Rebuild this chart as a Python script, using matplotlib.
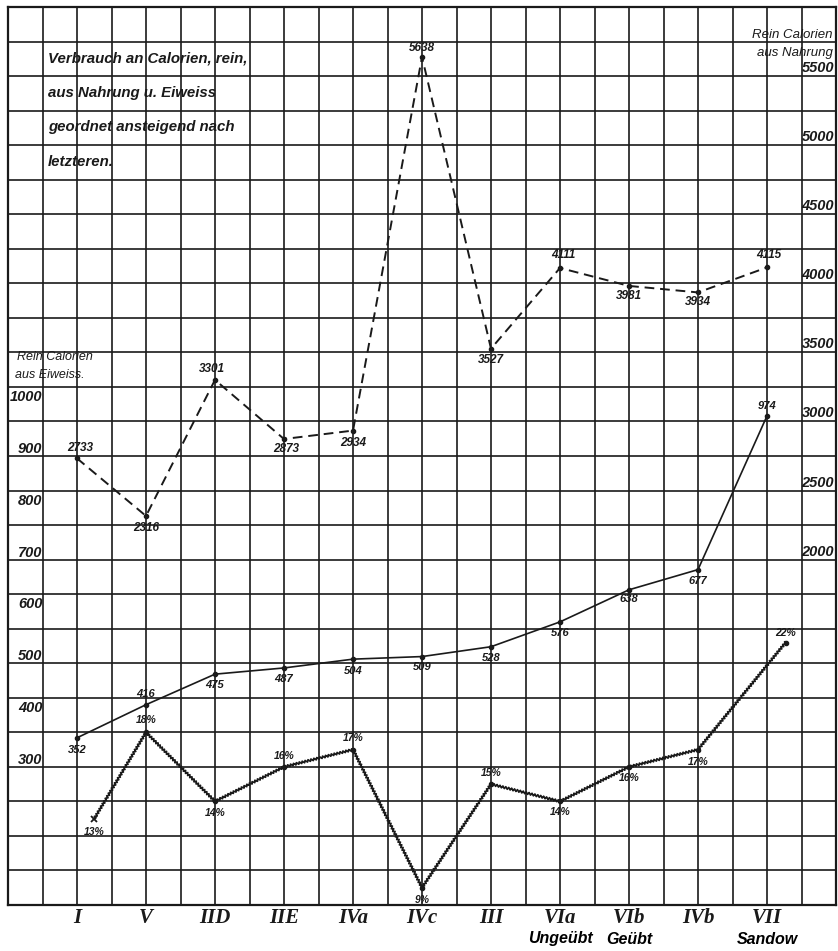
import numpy as np
import matplotlib
matplotlib.use('Agg')
from matplotlib import pyplot as plt

# groups, ordered by rising protein calories
groups = ['I', 'V', 'IID', 'IIE', 'IVa', 'IVc', 'III', 'VIa', 'VIb', 'IVb', 'VII']
nahrung = [2733, 2316, 3301, 2873, 2934, 5638, 3527, 4111, 3981, 3934, 4115]
eiweiss = [352, 416, 475, 487, 504, 509, 528, 576, 638, 677, 974]
pct_x = [0.25, 1, 2, 3, 4, 5, 6, 7, 8, 9, 10.27]
pct_vals = [13, 18, 14, 16, 17, 9, 15, 14, 16, 17, 23.2]
pct_labels = ['13%', '18%', '14%', '16%', '17%', '9%', '15%', '14%', '16%', '17%', '22%']

left_ticks = [300, 400, 500, 600, 700, 800, 900, 1000]
right_ticks = [2000, 2500, 3000, 3500, 4000, 4500, 5000, 5500]
sub_idx = [7, 8, 10]
sub_labels = ['Ungeübt', 'Geübt', 'Sandow']
title_lines = ['Verbrauch an Calorien, rein,', 'aus Nahrung u. Eiweiss',
               'geordnet ansteigend nach', 'letzteren.']

# label offsets in pixels (above > 0, below < 0)
nahrung_off = [(3, 10), (0, -12), (-3, 11), (2, -10), (0, -12), (0, 9),
               (0, -11), (3, 13), (0, -10), (0, -10), (2, 12)]
eiweiss_off = [(0, -12), (0, 11), (0, -11), (0, -11), (0, -12), (0, -10),
               (0, -11), (0, -11), (0, -9), (0, -11), (0, 10)]
pct_off = [(0, -13), (0, 12), (0, -12), (0, 11), (0, 12), (0, -12),
           (0, 11), (0, -11), (0, -11), (0, -12), (0, 10)]

HAND = ['Liberation Sans', 'DejaVu Sans']
INK = '#1a1a1a'


def hand(**kw):
    d = dict(family=HAND, style='italic', color=INK)
    d.update(kw)
    return d


def main():
    fig = plt.figure(figsize=(8.38, 9.51), dpi=100)
    ax = fig.add_axes([8 / 838, 46 / 951, 828 / 838, 898 / 951])
    ax.set_xlim(-1, 11)
    ax.set_ylim(-500, 6000)

    # squared paper
    ax.set_xticks(range(len(groups)))
    ax.set_xticks(np.arange(-1, 11.01, 0.5), minor=True)
    ax.set_yticks(np.arange(-500, 6001, 250))
    ax.grid(which='both', color=INK, lw=1.2)
    ax.tick_params(which='both', length=0)
    ax.set_yticklabels([])
    ax.set_xticklabels(groups, family='Liberation Serif', style='italic',
                       weight='bold', fontsize=15, color=INK)
    ax.tick_params(axis='x', pad=2)
    for s in ax.spines.values():
        s.set_linewidth(1.6)
        s.set_color(INK)

    ax_e = ax.twinx()
    ax_e.set_ylim(29, 1764)
    ax_p = ax.twinx()
    ax_p.set_ylim(8, 60)
    for a in (ax_e, ax_p):
        a.set_axis_off()

    x = np.arange(len(groups))

    # Nahrung (dashed)
    ax.plot(x, nahrung, color=INK, lw=1.4, ls=(0, (5, 3)),
            marker='o', ms=3)
    for i, v in enumerate(nahrung):
        ax.annotate(str(v), (x[i], v), xytext=nahrung_off[i],
                    textcoords='offset pixels', ha='center', va='center',
                    **hand(weight='bold', fontsize=8.5))

    # Eiweiss (solid)
    ax_e.plot(x, eiweiss, color=INK, lw=1.2, marker='o', ms=3)
    for i, v in enumerate(eiweiss):
        ax_e.annotate(str(v), (x[i], v), xytext=eiweiss_off[i],
                      textcoords='offset pixels', ha='center', va='center',
                      **hand(weight='bold', fontsize=8))

    # percent (wavy)
    pl, = ax_p.plot(pct_x, pct_vals, color=INK, lw=1.2)
    pl.set_sketch_params(scale=1.3, length=3, randomness=1)
    ax_p.plot(pct_x[1:], pct_vals[1:], ls='none', marker='o', ms=3, color=INK)
    ax_p.plot(pct_x[:1], pct_vals[:1], ls='none', marker='x', ms=4,
              mew=1.3, color=INK)
    for i, v in enumerate(pct_vals):
        ax_p.annotate(pct_labels[i], (pct_x[i], v), xytext=pct_off[i],
                      textcoords='offset pixels', ha='center', va='center',
                      **hand(weight='bold', fontsize=7.5))

    # scale numbers drawn inside the paper
    for v in left_ticks:
        ax_e.annotate(str(v), (-0.5, v), xytext=(0, 5),
                      textcoords='offset pixels', ha='right', va='center',
                      **hand(weight='bold', fontsize=10.5))
    for v in right_ticks:
        ax.annotate(str(v), (10.97, v), xytext=(0, 1),
                    textcoords='offset pixels', ha='right', va='bottom',
                    **hand(weight='bold', fontsize=10.5))

    ax.text(0.996, 0.969, 'Rein Calorien', transform=ax.transAxes,
            ha='right', va='center', **hand(fontsize=9.5))
    ax.text(0.996, 0.949, 'aus Nahrung', transform=ax.transAxes,
            ha='right', va='center', **hand(fontsize=9.5))
    ax.text(0.011, 0.610, 'Rein Calorien', transform=ax.transAxes,
            ha='left', va='center', **hand(fontsize=9))
    ax.text(0.009, 0.590, 'aus Eiweiss.', transform=ax.transAxes,
            ha='left', va='center', **hand(fontsize=9))

    # title block
    for k, line in enumerate(title_lines):
        ax.text(0.048, 0.943 - k * 0.0385, line, transform=ax.transAxes,
                ha='left', va='center', **hand(weight='bold', fontsize=10.8))

    # names under the groups
    for i, lab in zip(sub_idx, sub_labels):
        ax.annotate(lab, (i, 0), xycoords=('data', 'axes fraction'),
                    xytext=(0, -34), textcoords='offset pixels',
                    ha='center', va='center',
                    **hand(weight='bold', fontsize=11.5, color='black'))

    fig.savefig('out.png', dpi=100, facecolor='white')


if __name__ == "__main__":
    main()
